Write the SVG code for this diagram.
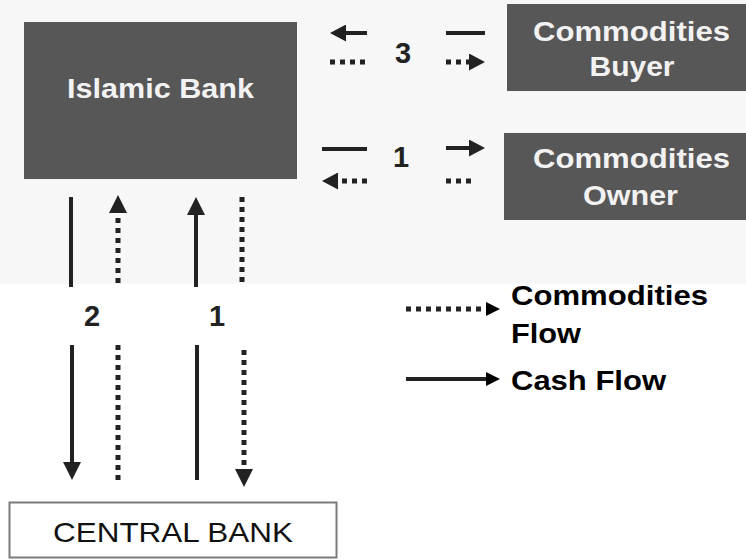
<svg xmlns="http://www.w3.org/2000/svg" width="746" height="560" viewBox="0 0 746 560">
<style>
.box{fill:#575757}
.btxt{font-family:"Liberation Sans",Arial,sans-serif;font-weight:bold;font-size:28px;fill:#f2f2f2;text-anchor:middle}
.num{font-family:"Liberation Sans",Arial,sans-serif;font-weight:bold;font-size:29px;fill:#222;text-anchor:middle}
.leg{font-family:"Liberation Sans",Arial,sans-serif;font-weight:bold;font-size:27px;fill:#000}
.cash{stroke:#222;stroke-width:4;fill:none}
.comm{stroke:#222;stroke-width:5;stroke-dasharray:5 5;fill:none}
</style>
<defs>
<marker id="h" viewBox="0 0 16 17" refX="3" refY="8.5" markerWidth="16" markerHeight="17" markerUnits="userSpaceOnUse" orient="auto">
<path d="M0,0 L16,8.5 L0,17 Z" fill="#222"/>
</marker>
<marker id="hv" viewBox="0 0 18 18" refX="4" refY="9" markerWidth="18" markerHeight="18" markerUnits="userSpaceOnUse" orient="auto">
<path d="M0,0 L18,9 L0,18 Z" fill="#222"/>
</marker>
<marker id="hl" viewBox="0 0 14 14" refX="3" refY="7" markerWidth="14" markerHeight="14" markerUnits="userSpaceOnUse" orient="auto">
<path d="M0,0 L14,7 L0,14 Z" fill="#000"/>
</marker>
</defs>
<rect x="0" y="0" width="746" height="284" fill="#f7f7f7"/>
<rect x="0" y="284" width="746" height="276" fill="#ffffff"/>

<g id="islamic-bank">
<rect class="box" x="24" y="22" width="273" height="157"/>
<text class="btxt" x="160.5" y="98" font-size="29" textLength="187" lengthAdjust="spacingAndGlyphs">Islamic Bank</text>
</g>
<g id="commodities-buyer">
<rect class="box" x="507" y="4" width="239" height="87"/>
<text class="btxt" x="631.5" y="41" textLength="197" lengthAdjust="spacingAndGlyphs">Commodities</text>
<text class="btxt" x="632" y="76" textLength="85" lengthAdjust="spacingAndGlyphs">Buyer</text>
</g>
<g id="commodities-owner">
<rect class="box" x="504" y="133" width="242" height="87"/>
<text class="btxt" x="631.5" y="168" textLength="197" lengthAdjust="spacingAndGlyphs">Commodities</text>
<text class="btxt" x="630.5" y="205" textLength="95" lengthAdjust="spacingAndGlyphs">Owner</text>
</g>
<g id="central-bank">
<rect x="9.5" y="502.5" width="327" height="55" fill="#ffffff" stroke="#7a7a7a" stroke-width="2"/>
<text x="173" y="542" font-family="'Liberation Sans',Arial,sans-serif" font-size="28" fill="#111" text-anchor="middle" textLength="240" lengthAdjust="spacingAndGlyphs">CENTRAL BANK</text>
</g>

<g id="connectors">
<!-- Buyer flows (3) -->
<line class="cash" x1="367" y1="33" x2="343" y2="33" marker-end="url(#h)"/>
<line class="comm" x1="330" y1="62" x2="367" y2="62"/>
<line class="cash" x1="446" y1="33" x2="485" y2="33"/>
<line class="comm" x1="446" y1="62" x2="472" y2="62" marker-end="url(#h)"/>
<!-- Owner flows (1) -->
<line class="cash" x1="322" y1="149" x2="367" y2="149"/>
<line class="comm" x1="367" y1="181" x2="335" y2="181" marker-end="url(#h)"/>
<line class="cash" x1="446" y1="148" x2="472" y2="148" marker-end="url(#h)"/>
<line class="comm" x1="446" y1="181" x2="476" y2="181"/>
<!-- Upper verticals -->
<line class="cash" x1="71" y1="197" x2="71" y2="287"/>
<line class="comm" x1="118" y1="283" x2="118" y2="209" marker-end="url(#hv)"/>
<line class="cash" x1="196" y1="287" x2="196" y2="211" marker-end="url(#hv)"/>
<line class="comm" x1="242" y1="197" x2="242" y2="287"/>
<!-- Lower verticals -->
<line class="cash" x1="72" y1="345" x2="72" y2="466" marker-end="url(#hv)"/>
<line class="comm" x1="118" y1="345" x2="118" y2="480"/>
<line class="cash" x1="197" y1="345" x2="197" y2="480"/>
<line class="comm" x1="244" y1="350" x2="244" y2="473" marker-end="url(#hv)"/>
<!-- Legend arrows -->
<line class="comm" x1="406" y1="309" x2="489" y2="309" stroke="#000" stroke-width="4" stroke-dasharray="4 4" marker-end="url(#hl)"/>
<line class="cash" x1="406" y1="379" x2="489" y2="379" stroke="#000" marker-end="url(#hl)"/>
</g>

<g id="labels">
<text class="num" x="403" y="63">3</text>
<text class="num" x="401" y="167">1</text>
<text class="num" x="92" y="326">2</text>
<text class="num" x="217" y="326">1</text>
<text class="leg" x="511" y="305" textLength="197" lengthAdjust="spacingAndGlyphs">Commodities</text>
<text class="leg" x="511" y="343" textLength="70" lengthAdjust="spacingAndGlyphs">Flow</text>
<text class="leg" x="511" y="390" textLength="155" lengthAdjust="spacingAndGlyphs">Cash Flow</text>
</g>
</svg>
